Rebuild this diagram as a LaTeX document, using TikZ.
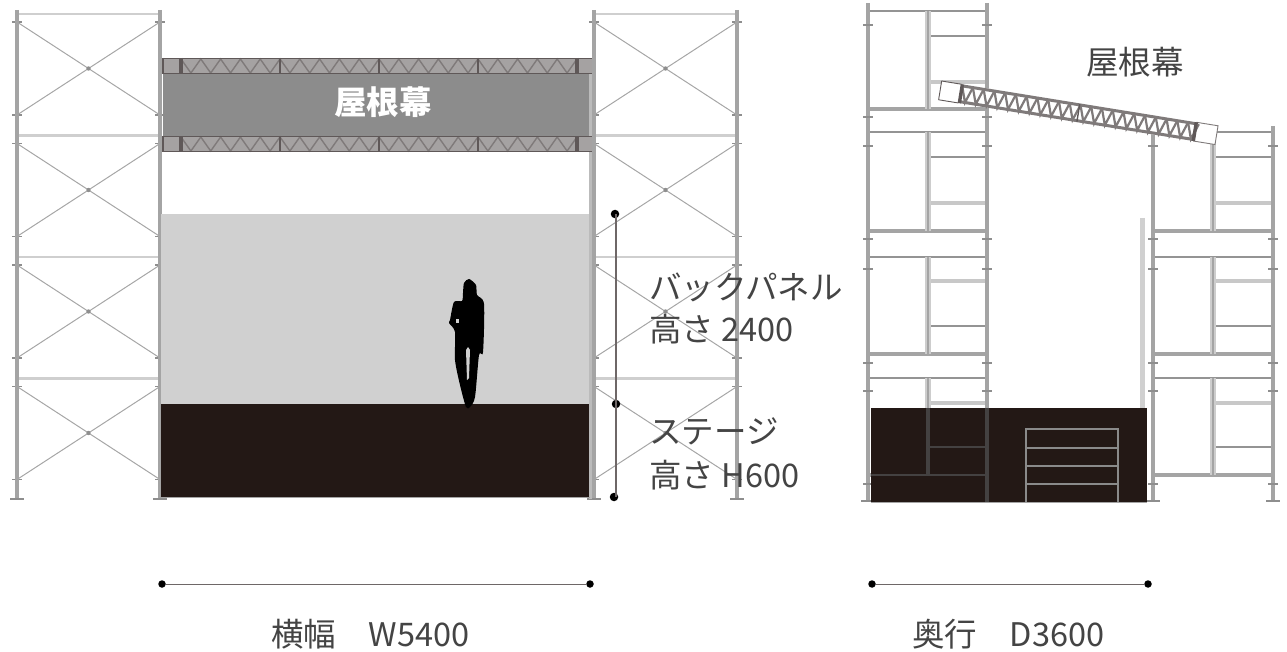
\documentclass[tikz,border=0pt]{standalone}
\usepackage{fontspec}
\setmainfont{Noto Sans CJK JP}
\definecolor{post}{HTML}{A4A4A4}
\definecolor{rail}{HTML}{CFCFCF}
\definecolor{brace}{HTML}{A6A6A6}
\definecolor{joint}{HTML}{8E8E8E}
\definecolor{roofgray}{HTML}{8C8C8C}
\definecolor{panelgray}{HTML}{D0D0D0}
\definecolor{stagedark}{HTML}{231815}
\definecolor{trussdark}{HTML}{5F5858}
\definecolor{trussmid}{HTML}{7F7A7A}
\definecolor{trusslight}{HTML}{A5A2A2}
\definecolor{dimline}{HTML}{6E6767}
\definecolor{labeltext}{HTML}{444444}
\definecolor{stepline}{HTML}{8A8A8A}
\definecolor{overstage}{HTML}{444141}
\tikzset{
  postline/.style={draw=post,line width=3.4pt},
  railline/.style={draw=rail,line width=2.4pt},
  braceline/.style={draw=brace,line width=1pt},
  jointline/.style={draw=joint,line width=1.6pt},
  thinrail/.style={draw=post!90!black,line width=2.4pt},
  lightrail/.style={draw=post!60!white,line width=4.2pt},
  heavyrail/.style={draw=post,line width=3.6pt},
  sidelight/.style={draw=post!55!white,line width=5.5pt},
  sidecore/.style={draw=post,line width=2.6pt},
  dimstroke/.style={draw=dimline,line width=1.1pt},
  dimdot/.style={circle,fill=black,inner sep=0pt,minimum size=8.5pt},
  enddot/.style={circle,fill=black,inner sep=0pt,minimum size=7.5pt},
  labeltxt/.style={font=\fontsize{32.5}{32.5}\selectfont,text=labeltext,inner sep=0pt,anchor=west},
}
\newcommand{\frontscaffold}[2]{%
  \foreach \k in {0,1,2,3}{
    \pgfmathsetmacro{\ya}{14+121.5*\k}
    \pgfmathsetmacro{\yb}{22+121.5*\k}
    \pgfmathsetmacro{\yc}{115+121.5*\k}
    \pgfmathsetmacro{\xm}{(#1+#2)/2}
    \draw[railline] (#1,\ya) -- (#2,\ya);
    \draw[braceline] (#1,\yb) -- (#2,\yc) (#1,\yc) -- (#2,\yb);
    \foreach \xx in {#1,#2}{
      \draw[jointline] (\xx-5,\yb) -- (\xx+5,\yb) (\xx-5,\yc) -- (\xx+5,\yc);
    }
    \fill[joint] (\xm,{(\yb+\yc)/2}) circle (2.2);
  }
  \draw[postline] (#1,10) -- (#1,500);
  \draw[postline] (#2,10) -- (#2,500);
  \draw[jointline,line width=2.4pt] (#1-7,499) -- (#1+7,499) (#2-7,499) -- (#2+7,499);
}
\newcommand{\frontruss}[1]{%
  \fill[trusslight] (163,#1) rectangle (592,#1+16);
  \draw[trussmid,line width=1.4pt] (181,#1+1) \foreach \i in {0,...,19}{
    -- ({181+19.8*\i+9.9},#1+15) -- ({181+19.8*\i+19.8},#1+1) };
  \draw[trussdark,line width=1.1pt] (163,#1+.5) -- (592,#1+.5) (163,#1+15.5) -- (592,#1+15.5) (163,#1) -- (163,#1+16);
  \foreach \xx in {280,379,478}{\draw[trussdark,line width=1.4pt] (\xx,#1) -- (\xx,#1+16);}
  \foreach \xx in {181,577}{\draw[trussdark,line width=3.4pt] (\xx,#1) -- (\xx,#1+16);}
}
\newcommand{\sideticks}[1]{%
  \foreach \yy in {25,117,146,239,269,363,391,484}{
    \draw[jointline,line width=1.3pt] (#1-5,\yy) -- (#1+5,\yy);
  }
}
\begin{document}
\begin{tikzpicture}[x=1pt,y=-1pt]
\useasboundingbox (0,0) rectangle (1287,652);
%% front view
\frontscaffold{17}{160}
\frontscaffold{594}{737}
\fill[panelgray] (161,214) rectangle (590,405);
\fill[panelgray!90!black] (589,73) rectangle (592,499);
\fill[stagedark] (161,404) rectangle (589,497);
\fill[roofgray] (163,72) rectangle (589,137);
\frontruss{58}
\frontruss{136}
\draw[post,line width=1pt] (161,497.5) -- (590,497.5);
\node[font=\fontsize{32.5}{32.5}\selectfont\bfseries,text=white,inner sep=0pt] (roofin) at (383,102) {屋根幕};
%% silhouette
\fill[black] plot[smooth cycle,tension=.45] coordinates {(469,279) (464,283) (463,293) (462,301) (454,302) (450,320) (449,323) (455,332) (455,360) (460,385) (466,407) (470,407) (475,397) (479,355) (483,352) (484,304) (477,295) (476,285)};
\fill[panelgray] (466,350) -- (468,347) -- (470,350) -- (469,378) -- (467,380) -- cycle;
\fill[panelgray] (456,319) rectangle (459,323);
%% dimension lines, front
\coordinate (dimA) at (615,214);
\coordinate (dimB) at (616,404);
\coordinate (dimC) at (614,497);
\node[dimdot] (dotA) at (dimA) {};
\node[dimdot] (dotB) at (dimB) {};
\node[dimdot] (dotC) at (dimC) {};
\draw[dimstroke] (616,214) -- (616,497);
\node[enddot] (wA) at (162,584) {};
\node[enddot] (wB) at (590,584) {};
\draw[dimstroke,line width=.9pt] (wA) -- (wB);
\node[enddot] (dA) at (872,584) {};
\node[enddot] (dB) at (1148,584) {};
\draw[dimstroke,line width=.9pt] (dA) -- (dB);
%% side view: front unit
\foreach \yy in {82,203,281,403}{\draw[lightrail] (928,\yy) -- (987,\yy);}
\foreach \yy in {36,157,326,447}{\draw[thinrail] (928,\yy) -- (987,\yy);}
\foreach \yy in {11,132,257,378}{\draw[thinrail] (868,\yy) -- (987,\yy);}
\foreach \yy in {109,231,354,475}{\draw[heavyrail] (868,\yy) -- (987,\yy);}
\foreach \ya/\yb in {11/109,132/231,257/354,378/475}{
  \draw[sidelight] (928,\ya) -- (928,\yb);
  \draw[sidecore] (928,\ya) -- (928,\yb);
}
\draw[postline] (868,3) -- (868,501);
\draw[postline] (987,3) -- (987,501);
\sideticks{868}
\sideticks{987}
%% side view: back unit
\foreach \yy in {203,281,403}{\draw[lightrail] (1213,\yy) -- (1273,\yy);}
\foreach \yy in {157,326,447}{\draw[thinrail] (1213,\yy) -- (1273,\yy);}
\draw[thinrail] (1213,132) -- (1273,132);
\foreach \yy in {257,378}{\draw[thinrail] (1153,\yy) -- (1273,\yy);}
\foreach \yy in {231,354,475}{\draw[heavyrail] (1153,\yy) -- (1273,\yy);}
\foreach \ya/\yb in {132/231,257/354,378/475}{
  \draw[sidelight] (1213,\ya) -- (1213,\yb);
  \draw[sidecore] (1213,\ya) -- (1213,\yb);
}
\draw[postline] (1153,130) -- (1153,501);
\draw[postline] (1273,126) -- (1273,501);
\foreach \yy in {146,239,269,363,391,484}{
  \draw[jointline,line width=1.3pt] (1148,\yy) -- (1158,\yy);
  \draw[jointline,line width=1.3pt] (1268,\yy) -- (1278,\yy);
}
\foreach \xx in {868,987,1153,1273}{\draw[jointline,line width=2.4pt] (\xx-7,501) -- (\xx+7,501);}
%% back panel edge
\draw[draw=panelgray,line width=5pt] (1142,218) -- (1142,409);
%% stage, side
\fill[stagedark] (871,408) rectangle (1147,502);
\draw[post,line width=1pt] (871,502) -- (1147,502);
\draw[overstage,line width=3.4pt] (928,408) -- (928,475) (987,408) -- (987,502);
\draw[overstage,line width=2.8pt] (928,447) -- (987,447) (871,475) -- (987,475);
\draw[stepline,line width=2.4pt] (1026,502) -- (1026,429) -- (1118,429) -- (1118,502);
\foreach \yy in {448,466,484}{\draw[stepline,line width=2.4pt] (1026,\yy) -- (1118,\yy);}
%% sloped truss
\begin{scope}[shift={(950,92)},rotate=-9.2]
  \fill[white] (-10,-9.5) rectangle (270,9.5);
  \foreach \i in {0,...,21}{
    \pgfmathsetmacro{\xa}{11+10.9*\i}
    \draw[trussmid,line width=2.2pt] (\xa,-8) -- (\xa+5.45,8) -- (\xa+10.9,-8);
  }
  \draw[trussmid,line width=3pt] (10,-8) -- (248,-8) (10,8) -- (248,8);
  \draw[trussdark,line width=.9pt] (-10,-9.5) -- (10,-9.5) (-10,9.5) -- (10,9.5) (-10,-9.5) -- (-10,9.5);
  \draw[trussmid,line width=.9pt] (248,-9.5) -- (270,-9.5) -- (270,9.5) -- (248,9.5);
  \draw[trussdark,line width=3.4pt] (11,-9.5) -- (11,9.5) (248,-9.5) -- (248,9.5);
  \draw[trussdark,line width=1.4pt] (130,-9) -- (130,9);
\end{scope}
%% labels
\node[labeltxt] (lblpanelA) at (649,287) {バックパネル};
\node[labeltxt] (lblpanelB) at (649,329) {高さ 2400};
\node[labeltxt] (lblstageA) at (649,431) {ステージ};
\node[labeltxt] (lblstageB) at (649,475) {高さ H600};
\node[labeltxt] (lblwidth) at (271,634) {横幅　W5400};
\node[labeltxt] (lbldepth) at (912,634) {奥行　D3600};
\node[labeltxt] (lblroof) at (1086,62) {屋根幕};
\end{tikzpicture}
\end{document}
